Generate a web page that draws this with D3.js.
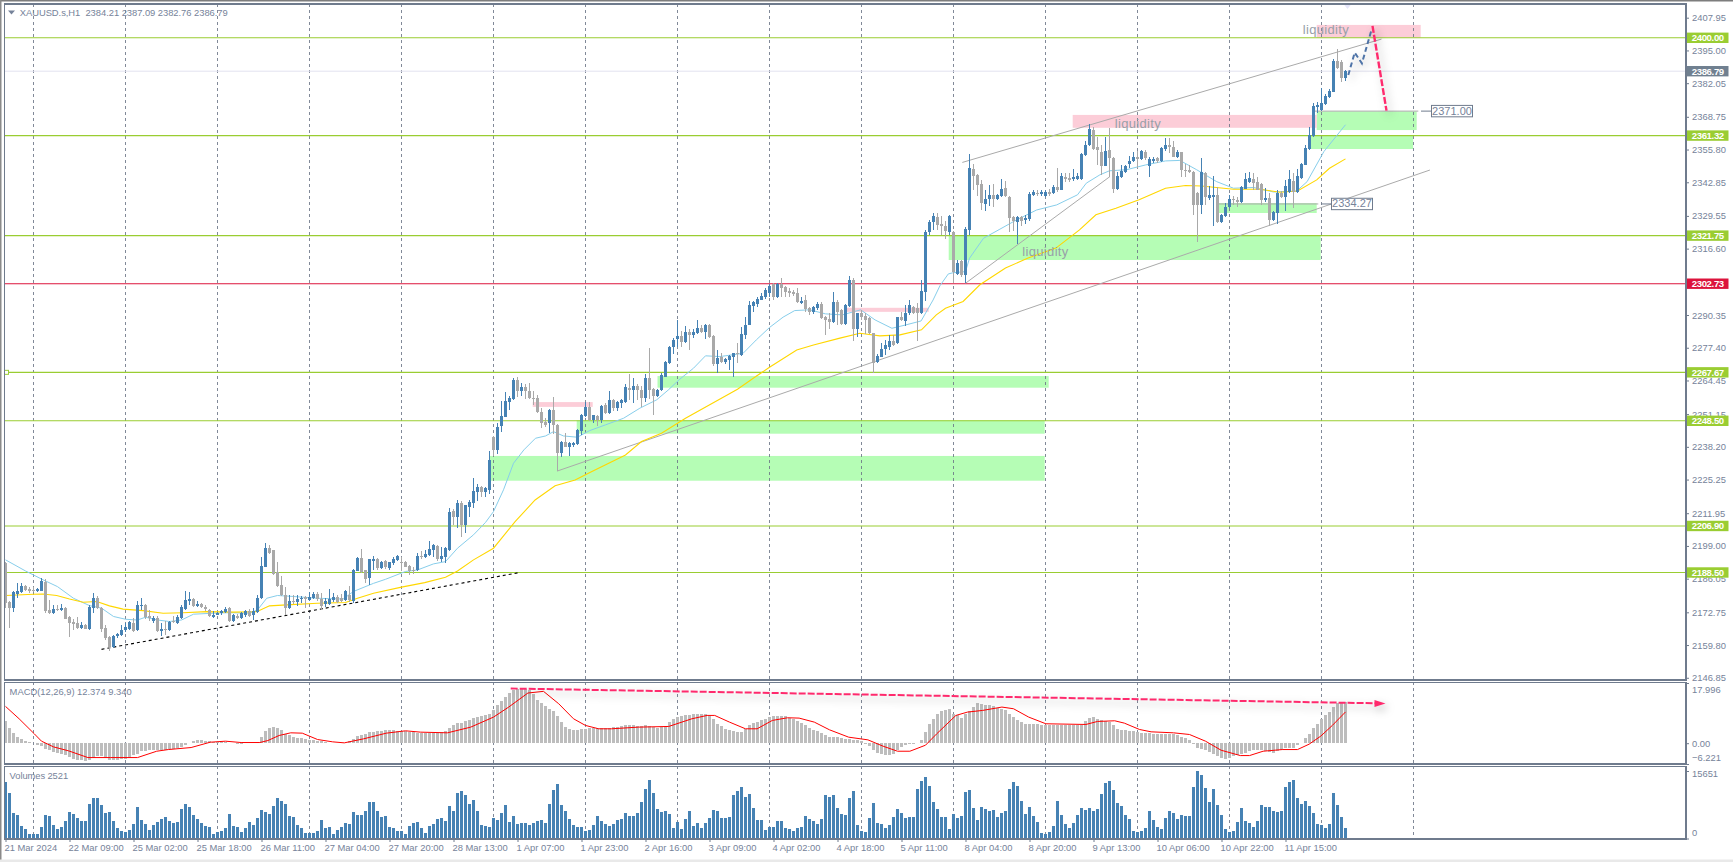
<!DOCTYPE html>
<html><head><meta charset="utf-8">
<script src="https://cdn.jsdelivr.net/npm/d3@7"></script>
<style>
html,body{margin:0;padding:0;background:#fff;overflow:hidden}
svg{display:block}
text{font-family:"Liberation Sans",Arial,sans-serif}
</style></head><body>
<script>
const headerText="XAUUSD.s,H1  2384.21 2387.09 2382.76 2386.79";
const macdTitle="MACD(12,26,9) 12.374 9.340";
const volumeTitle="Volumes 2521";
const opens=[
2192.2,2177.0,2174.5,2180.0,2180.8,2183.2,2182.0,2181.6,2181.1,2181.3,
2184.9,2173.7,2172.4,2174.1,2173.6,2174.4,2170.7,2169.1,2168.6,2166.7,
2167.8,2166.1,2174.5,2178.3,2174.4,2166.7,2162.9,2158.9,2163.2,2163.7,
2165.9,2166.1,2168.7,2165.7,2175.3,2175.7,2171.3,2169.5,2170.4,2165.5,
2166.3,2165.8,2169.4,2168.7,2170.5,2174.2,2177.3,2178.0,2175.3,2176.1,
2175.0,2173.7,2170.8,2171.7,2172.4,2172.8,2174.4,2169.5,2171.3,2170.4,
2171.7,2173.4,2171.5,2173.0,2178.4,2190.8,2198.2,2197.2,2188.5,2183.6,
2179.6,2174.4,2177.4,2176.9,2177.9,2178.7,2177.6,2178.3,2180.0,2177.9,
2176.1,2176.1,2177.6,2178.8,2178.5,2177.7,2179.6,2177.4,2189.1,2194.3,
2189.3,2186.2,2193.2,2193.9,2190.2,2193.1,2190.2,2192.4,2193.5,2192.7,
2192.7,2191.1,2189.5,2189.3,2195.1,2194.8,2195.5,2197.4,2199.0,2193.9,
2194.7,2197.3,2213.0,2210.6,2215.9,2207.1,2214.3,2216.0,2220.5,2222.5,
2220.4,2221.2,2242.1,2237.0,2246.5,2250.2,2256.0,2257.0,2264.7,2260.3,
2261.8,2260.3,2257.4,2257.6,2252.0,2248.1,2247.5,2252.8,2246.9,2235.9,
2240.0,2238.3,2239.0,2239.2,2244.6,2250.4,2254.1,2248.9,2250.4,2248.9,
2254.8,2251.5,2256.8,2253.5,2255.7,2256.1,2261.4,2260.5,2262.3,2260.7,
2257.4,2265.5,2261.1,2258.4,2260.5,2266.0,2271.3,2277.5,2281.0,2282.1,
2279.7,2283.7,2282.6,2283.4,2285.2,2283.5,2286.4,2282.1,2271.0,2273.6,
2271.9,2272.6,2273.9,2275.4,2274.6,2282.5,2286.4,2294.1,2294.7,2296.3,
2297.6,2299.2,2302.7,2297.4,2302.7,2301.6,2299.8,2299.5,2299.2,2295.0,
2296.3,2293.0,2291.6,2293.0,2294.7,2289.5,2288.7,2287.4,2295.5,2292.4,
2286.8,2294.1,2304.2,2284.9,2291.1,2290.0,2289.1,2283.1,2271.9,2273.9,
2276.8,2277.6,2280.1,2279.1,2289.6,2288.0,2291.1,2293.4,2293.2,2291.1,
2299.6,2323.0,2327.0,2329.0,2326.3,2325.5,2323.1,2323.1,2306.6,2311.8,
2306.1,2324.0,2348.0,2345.8,2342.3,2334.3,2336.3,2337.9,2336.3,2337.5,
2340.5,2337.2,2329.3,2327.3,2329.0,2328.0,2328.2,2337.7,2338.6,2338.1,
2337.6,2339.0,2338.5,2340.9,2339.8,2345.1,2344.7,2344.1,2344.1,2344.2,
2353.7,2357.5,2363.6,2356.7,2355.0,2349.3,2355.7,2352.6,2340.1,2344.9,
2347.1,2350.1,2351.4,2352.8,2352.0,2355.0,2349.3,2351.1,2352.4,2351.1,
2355.9,2357.6,2356.7,2353.0,2354.7,2347.8,2347.8,2347.1,2338.5,2333.9,
2346.7,2336.5,2337.2,2337.9,2327.1,2329.7,2333.0,2336.3,2335.8,2335.2,
2340.2,2343.1,2344.2,2343.1,2342.1,2335.8,2336.5,2328.0,2330.6,2338.8,
2337.2,2339.2,2343.4,2339.2,2344.4,2349.7,2356.1,2361.2,2372.5,2371.5,
2373.9,2376.6,2378.7,2390.9,2390.6,2384.21];
const highs=[
2192.5,2177.3,2181.0,2184.5,2184.2,2183.6,2182.7,2182.7,2182.3,2186.2,
2185.8,2177.7,2175.7,2175.7,2176.1,2174.8,2171.1,2170.0,2170.7,2168.8,
2168.2,2175.7,2180.3,2179.0,2174.8,2167.8,2163.2,2163.8,2164.7,2167.8,
2168.7,2169.5,2170.4,2177.3,2178.6,2176.1,2173.7,2171.3,2171.1,2168.4,
2169.5,2169.5,2171.3,2171.7,2175.7,2181.3,2180.9,2178.3,2177.4,2176.6,
2175.7,2174.1,2173.3,2173.0,2173.7,2174.8,2174.8,2172.1,2172.1,2173.0,
2173.7,2174.1,2174.4,2179.4,2194.8,2200.1,2199.4,2197.4,2192.8,2187.2,
2182.7,2179.4,2179.4,2179.4,2179.0,2179.0,2180.6,2180.7,2180.6,2180.3,
2178.3,2182.0,2180.3,2179.4,2180.0,2181.4,2183.2,2190.0,2194.8,2197.8,
2189.5,2194.0,2195.2,2194.1,2193.2,2193.5,2192.8,2194.5,2195.5,2194.8,
2193.0,2191.4,2190.6,2196.4,2196.8,2197.4,2200.9,2199.6,2199.3,2198.5,
2198.5,2213.9,2213.5,2217.2,2216.6,2215.2,2217.0,2225.9,2223.6,2222.9,
2222.5,2236.6,2242.5,2247.5,2256.5,2259.8,2258.4,2265.3,2265.7,2263.4,
2263.1,2263.4,2260.1,2258.8,2253.7,2249.5,2253.0,2257.8,2247.3,2240.6,
2243.6,2240.3,2240.0,2245.2,2251.1,2256.1,2256.1,2250.8,2250.7,2254.7,
2255.5,2260.1,2257.3,2256.5,2257.0,2263.1,2267.1,2265.3,2263.1,2262.1,
2267.1,2277.3,2261.6,2261.0,2267.3,2272.2,2278.0,2281.2,2288.4,2284.2,
2286.0,2284.7,2284.7,2288.4,2286.4,2286.7,2286.7,2282.3,2276.5,2275.2,
2273.5,2274.6,2275.4,2279.2,2285.8,2289.7,2295.7,2295.7,2297.4,2299.2,
2300.9,2302.7,2302.9,2303.2,2304.9,2301.9,2301.0,2300.3,2301.0,2297.4,
2298.3,2293.4,2293.9,2295.3,2295.3,2290.0,2291.1,2299.4,2296.3,2292.6,
2294.6,2305.8,2304.9,2291.3,2292.4,2291.1,2289.5,2283.4,2275.0,2279.4,
2280.5,2282.5,2282.5,2289.7,2291.7,2294.3,2296.3,2293.9,2295.0,2304.0,
2324.0,2328.0,2330.5,2330.5,2329.5,2327.5,2330.0,2323.4,2312.2,2312.2,
2325.3,2354.1,2350.1,2346.2,2343.8,2339.8,2341.8,2342.1,2338.3,2344.1,
2343.5,2337.5,2329.7,2329.6,2329.6,2329.9,2339.2,2339.8,2339.8,2339.6,
2339.8,2340.1,2341.8,2348.4,2346.4,2346.4,2346.4,2348.0,2346.7,2354.6,
2359.0,2365.8,2364.6,2360.9,2357.6,2360.9,2364.2,2353.0,2347.1,2349.7,
2349.7,2353.3,2355.0,2355.4,2355.7,2355.7,2353.0,2353.0,2353.0,2357.0,
2360.3,2360.3,2359.0,2355.7,2355.0,2350.1,2349.7,2347.5,2339.2,2352.4,
2347.1,2341.2,2345.4,2340.9,2330.3,2334.6,2337.9,2337.5,2337.0,2341.2,
2346.4,2347.1,2346.4,2344.9,2342.5,2340.5,2338.5,2331.3,2339.6,2339.4,
2343.8,2347.7,2346.7,2348.0,2350.4,2357.4,2364.9,2374.4,2374.8,2380.1,
2377.7,2379.7,2391.5,2395.5,2391.3,2387.09];
const lows=[
2174.4,2166.7,2173.0,2178.3,2180.3,2181.0,2180.3,2180.8,2180.8,2181.0,
2172.6,2172.1,2172.0,2173.3,2173.2,2170.0,2162.9,2165.8,2166.2,2166.2,
2166.1,2165.8,2172.6,2174.0,2165.0,2161.8,2157.3,2158.7,2162.5,2163.2,
2165.1,2165.8,2165.1,2165.4,2173.7,2170.0,2169.5,2168.4,2165.1,2163.4,
2163.8,2165.4,2168.4,2168.2,2170.0,2173.7,2175.7,2174.8,2174.8,2174.4,
2173.4,2170.7,2170.4,2171.5,2171.7,2172.4,2169.1,2169.1,2170.0,2170.1,
2170.8,2170.8,2169.6,2172.4,2178.2,2190.6,2195.9,2187.6,2182.9,2179.0,
2171.7,2174.1,2176.1,2175.3,2176.6,2174.4,2177.4,2177.9,2177.4,2173.7,
2175.0,2175.7,2177.0,2176.6,2176.8,2177.2,2177.0,2176.3,2188.9,2188.2,
2184.3,2183.6,2189.5,2189.5,2189.8,2189.8,2189.5,2191.5,2193.2,2188.9,
2190.6,2187.5,2187.9,2189.0,2193.9,2194.3,2195.2,2194.8,2193.1,2192.6,
2192.4,2196.9,2207.3,2206.0,2202.5,2204.3,2210.6,2213.9,2216.6,2218.5,
2218.3,2219.6,2234.4,2235.4,2243.9,2249.9,2252.8,2256.8,2258.1,2258.4,
2257.0,2257.0,2254.8,2251.5,2245.6,2246.2,2243.6,2243.3,2228.7,2234.0,
2238.0,2234.6,2238.3,2239.0,2242.9,2250.2,2248.6,2247.5,2246.6,2247.8,
2251.2,2251.2,2252.2,2252.2,2253.5,2255.7,2256.8,2255.5,2256.8,2253.9,
2256.1,2257.3,2250.8,2258.1,2260.2,2265.7,2271.0,2275.0,2277.6,2277.6,
2279.4,2276.5,2281.4,2282.9,2283.4,2280.9,2281.2,2270.2,2267.6,2271.3,
2271.0,2268.6,2265.7,2271.3,2274.2,2280.8,2286.2,2291.7,2293.7,2296.1,
2296.6,2297.4,2296.3,2297.0,2297.6,2297.6,2297.6,2297.9,2295.0,2294.6,
2291.7,2290.4,2290.8,2292.4,2288.7,2282.5,2284.7,2287.1,2286.4,2286.4,
2286.2,2293.7,2280.2,2281.8,2288.4,2282.9,2282.9,2267.6,2271.3,2273.6,
2274.6,2276.5,2277.9,2278.8,2287.8,2286.0,2290.4,2290.8,2280.2,2290.8,
2295.7,2322.0,2324.0,2324.0,2322.0,2320.5,2322.0,2303.2,2306.2,2305.5,
2302.9,2321.8,2339.8,2337.5,2331.7,2331.3,2333.5,2333.2,2335.9,2336.9,
2336.9,2323.0,2323.4,2318.5,2325.6,2326.4,2327.7,2337.5,2337.5,2337.5,
2337.2,2337.5,2338.3,2339.2,2339.6,2343.1,2343.1,2343.5,2343.8,2343.9,
2353.3,2357.2,2355.7,2349.7,2345.8,2349.1,2345.1,2338.5,2339.8,2344.5,
2346.7,2348.4,2351.0,2348.4,2351.7,2351.7,2344.9,2350.4,2350.4,2350.7,
2355.4,2354.3,2352.8,2352.6,2344.9,2344.9,2346.4,2330.0,2319.4,2330.4,
2333.9,2335.9,2325.6,2326.7,2326.8,2329.3,2332.6,2333.9,2333.2,2334.8,
2340.1,2342.5,2339.8,2339.6,2333.9,2335.2,2325.7,2327.7,2326.4,2336.5,
2331.3,2338.8,2332.6,2338.8,2344.2,2349.5,2355.7,2360.9,2370.2,2371.2,
2373.5,2376.1,2378.5,2387.7,2382.6,2382.76];
const closes=[
2176.3,2174.6,2180.6,2181.2,2183.2,2181.6,2181.0,2181.3,2181.9,2185.3,
2173.4,2172.4,2174.1,2173.8,2174.4,2170.2,2168.6,2168.0,2166.5,2167.8,
2166.2,2174.8,2178.4,2174.4,2166.2,2162.6,2158.9,2163.4,2164.2,2165.8,
2167.0,2168.8,2165.4,2175.7,2175.7,2170.7,2170.3,2170.5,2165.4,2166.2,
2165.8,2169.1,2169.0,2170.8,2174.9,2177.7,2178.0,2175.2,2176.1,2174.8,
2174.0,2171.1,2171.7,2172.6,2173.3,2174.0,2169.5,2171.5,2170.4,2172.4,
2173.3,2171.3,2173.3,2178.4,2191.1,2198.2,2196.1,2188.0,2183.3,2179.4,
2174.4,2177.3,2176.9,2178.0,2178.6,2177.9,2178.7,2180.0,2177.9,2175.3,
2177.4,2177.9,2178.8,2177.0,2177.2,2181.0,2177.7,2189.5,2194.4,2188.5,
2186.0,2193.7,2193.9,2190.2,2192.8,2190.5,2192.7,2194.0,2195.1,2192.4,
2190.8,2189.1,2189.3,2195.1,2194.8,2195.9,2197.7,2199.2,2193.9,2195.1,
2198.2,2212.5,2210.6,2216.0,2207.1,2215.0,2216.3,2220.8,2222.4,2220.3,
2222.0,2233.0,2237.0,2246.1,2250.4,2256.4,2257.7,2264.7,2260.3,2261.8,
2260.3,2257.6,2257.3,2251.8,2247.8,2246.9,2252.8,2246.9,2235.9,2240.3,
2238.3,2239.6,2239.6,2244.9,2250.8,2254.1,2248.9,2250.7,2248.9,2254.4,
2251.5,2256.8,2253.5,2256.1,2256.8,2261.7,2260.7,2262.3,2260.5,2257.4,
2265.5,2260.7,2258.4,2260.7,2266.8,2271.9,2277.5,2280.5,2282.1,2279.7,
2283.7,2282.5,2283.7,2285.2,2283.7,2286.4,2281.6,2271.0,2273.5,2271.8,
2273.1,2274.3,2275.4,2274.8,2282.9,2286.4,2294.3,2295.3,2296.7,2298.0,
2300.3,2301.9,2297.6,2302.7,2301.0,2299.6,2299.2,2298.7,2295.3,2296.0,
2292.6,2291.7,2293.4,2294.7,2289.1,2288.4,2287.6,2295.5,2291.7,2286.8,
2294.3,2304.2,2284.9,2291.1,2289.7,2288.4,2283.1,2271.5,2274.2,2276.9,
2278.5,2280.1,2278.4,2289.6,2288.2,2291.3,2294.3,2291.3,2291.1,2299.9,
2323.0,2327.0,2329.5,2326.0,2325.4,2323.5,2329.6,2307.5,2311.1,2306.2,
2324.3,2348.4,2345.4,2341.8,2334.6,2336.3,2337.9,2336.3,2337.9,2340.2,
2337.5,2328.8,2327.7,2329.3,2327.6,2328.6,2338.3,2338.9,2338.1,2338.9,
2339.0,2338.1,2340.9,2339.8,2345.4,2344.1,2343.8,2345.1,2345.5,2354.1,
2357.6,2363.8,2355.9,2355.7,2349.3,2355.3,2352.5,2340.1,2345.4,2347.4,
2349.3,2351.4,2353.0,2352.0,2355.3,2352.4,2352.0,2352.0,2351.1,2356.3,
2357.4,2356.7,2353.0,2354.7,2347.8,2347.4,2347.1,2333.9,2333.9,2346.8,
2337.2,2337.9,2337.9,2327.1,2330.0,2333.0,2336.1,2335.8,2335.2,2340.9,
2344.2,2344.5,2342.5,2339.8,2335.9,2336.8,2328.0,2331.0,2338.8,2336.9,
2341.4,2344.2,2338.9,2345.2,2350.1,2356.6,2361.6,2373.1,2373.5,2374.1,
2377.0,2379.1,2391.0,2388.0,2384.1,2386.79];
const macdHist=[
6.5,4.5,3.0,1.8,1.3,0.8,0.5,0.1,-0.4,-0.9,
-1.6,-2.1,-2.7,-2.9,-3.3,-3.6,-4.1,-4.6,-4.9,-5.1,
-5.3,-4.9,-4.3,-3.9,-3.9,-4.3,-5.1,-5.1,-5.1,-4.8,
-4.6,-4.3,-3.6,-3.1,-2.4,-2.2,-1.9,-2.1,-2.1,-1.9,
-1.9,-1.8,-1.7,-1.4,-1.1,-0.6,0.2,0.8,0.9,1.0,
0.8,0.6,0.5,0.4,0.3,0.3,0.1,0,-0.2,-0.2,
0,0,0.1,0.5,2.0,3.5,4.6,4.8,4.6,3.8,
2.8,2.3,2.0,1.5,1.5,1.3,1.0,1.0,0.8,0.6,
0.3,0.2,0.1,0.1,0.2,0,0.6,1.3,2.1,2.3,
2.8,3.2,3.4,3.5,3.7,3.8,3.8,3.8,3.7,3.6,
3.5,3.2,3.2,3.1,3.0,3.0,3.1,3.1,3.1,3.3,
3.6,4.6,5.4,6.0,6.1,6.5,7.0,7.5,7.8,8.0,
8.3,8.8,10.0,11.3,12.5,13.8,15.1,16.0,16.3,16.3,
16.1,15.8,14.6,13.0,12.0,11.0,10.3,9.6,8.0,6.3,
4.9,4.3,3.8,4.0,4.2,4.3,4.6,4.6,4.6,4.6,
4.6,4.6,4.7,4.8,5.0,5.3,5.3,5.3,5.0,5.0,
5.3,5.0,4.8,4.6,4.8,5.0,6.3,7.3,7.8,8.1,
8.3,8.5,8.6,8.6,8.6,8.6,8.1,7.1,5.8,5.0,
4.3,3.8,3.6,3.4,3.4,4.3,5.3,6.0,6.3,6.8,
7.3,7.8,8.0,8.0,8.0,8.0,7.5,7.1,6.6,6.0,
5.3,4.6,4.0,3.6,3.1,2.4,2.0,2.0,1.8,1.5,
1.3,1.3,1.0,1.0,0.6,-0.2,-0.9,-1.9,-2.9,-3.3,
-3.5,-3.6,-3.3,-2.1,-1.1,-0.6,-0.3,-0.2,0.2,1.1,
3.3,5.8,7.3,8.8,9.5,9.8,10.3,8.8,8.3,7.6,
8.8,9.6,10.8,12.0,11.6,11.5,11.3,11.0,10.6,10.3,
10.0,8.8,7.8,6.8,6.3,5.6,5.6,5.6,5.6,5.5,
5.5,5.4,5.4,5.4,5.4,5.4,5.4,5.4,5.4,5.5,
6.6,7.6,7.7,7.3,6.8,6.6,6.3,5.3,4.3,3.8,
3.8,3.6,3.6,3.3,3.0,3.0,3.0,2.8,2.8,2.8,
2.6,2.6,2.6,2.4,2.0,1.6,1.0,-0.3,-1.3,-1.6,
-2.1,-2.6,-3.1,-3.9,-4.4,-4.6,-4.4,-3.9,-3.6,-3.3,
-2.8,-2.4,-1.9,-1.9,-1.9,-2.4,-2.6,-2.8,-2.4,-1.9,
-1.3,-1.3,-1.3,-0.6,0.1,1.5,2.6,4.6,5.8,7.3,
8.3,9.3,10.8,12.0,12.2,12.374];
const volumes=[
13098,10540,5890,5425,2868,2170,1008,930,1008,2558,
5425,5270,3100,2248,2558,4030,6123,5735,4650,4030,
4030,7983,9378,9378,7750,5813,6045,4108,2403,1783,
1473,1860,3333,7285,4263,3333,1938,3100,3798,4495,
4960,4108,3643,3798,6820,7983,7285,5425,4495,3565,
2868,2635,1008,1395,1705,2403,5658,2868,2635,1473,
2403,3798,3100,4728,6588,6123,5658,7518,9378,8680,
7983,5193,4960,3100,2403,1240,1240,1240,1705,4263,
2403,2635,1008,1938,2635,3565,3333,6123,5425,5425,
6355,8448,8448,6355,4960,5193,2635,2403,1705,1705,
1008,2868,3565,3798,2403,1318,2868,3333,4495,4728,
4030,7518,6355,10540,11005,10075,7983,8913,6355,3100,
2868,2635,4728,4263,5890,7750,3798,5193,3410,3488,
3488,3178,3643,4030,4263,3565,7983,11315,12633,7750,
6355,4495,3100,2635,2635,1705,1860,3100,5193,
4030,3333,2868,3333,4263,4495,5890,5193,5193,5890,
8448,11470,13563,10540,6820,6123,6355,5658,2403,3798,
2170,4495,6355,2868,3565,2403,3565,4728,6588,6355,
4728,4728,4960,10075,11083,11935,9610,10308,7053,4263,
4263,1938,2635,2635,4030,4030,2403,2170,1705,2403,
2635,5193,4495,4030,3333,4495,10075,9610,10075,7053,
5658,5425,9378,11005,3100,1705,1473,4728,8215,3565,
3333,2403,3100,4960,6820,5890,4728,4960,4960,11470,
13330,14260,12168,8448,6820,4960,4960,2170,5658,4728,
5193,10773,11238,7053,4263,7285,6820,6355,6588,4960,
5890,6355,11470,13098,12168,8680,5658,7285,5193,3798,
1240,1008,1473,2868,8680,5425,3333,2403,3565,5425,
7053,6588,7053,6355,6820,10308,12865,13330,11238,8215,
7518,5425,4495,1705,1473,1705,2403,
6355,4263,2635,2170,4728,6355,5890,4495,5425,5270,
5193,11935,15651,14725,11703,8448,11470,7750,5425,2170,
1473,1705,3798,7053,4030,3565,2635,4030,7750,7285,
7285,6355,6123,6355,11935,13098,13563,9378,7983,8680,
7518,5890,3333,3100,2403,3333,10540,7750,4960,2521];
const signalBars=[0,3.4,7.2,9,12,15.8,20.6,26.3,33,37.8,40.7,46.4,51.2,55,58.9,63.6,65.6,68.4,71.3,74.2,78,81.8,84.7,89.5,95.2,100,103.8,110.5,116.3,122,125.8,130.6,134.5,138.3,142,145,148.3,151.5,158.2,165.8,171.6,175.4,177.3,181,185,187.9,191.7,195.5,198.4,202.2,206,210.8,215.6,219.4,223,226.1,230,232.8,237.6,240.5,244.3,249.1,252,255.8,260.1,270.1,273,277.3,279.7,283.5,286.4,292,296,300,303.9,308.7,311,314.4,319.2,323,325.9,328.8,331.7,335];
const signalValues=[11,7.3,2.8,0.6,-1.1,-2.3,-4.3,-4.3,-4.3,-2.4,-1.9,-1.3,0.3,0.6,0.2,0.2,0.8,2.3,3.1,3,1.1,0.4,0.1,1.3,3,3.7,3.3,3.1,4.8,7.8,10.8,15,15.5,11.8,7.3,5.3,4.3,4.3,4.8,5,7.3,8.3,8.3,6.3,4.3,4.3,6.8,7.6,7.5,6.3,4,1.8,1,-0.9,-2.4,-2.4,-0.6,2.8,8.3,9.3,9.8,10.8,10.3,7.8,5.8,5.6,6.5,6.7,6,4.1,3.4,3.1,2.6,0.6,-2.1,-3.7,-3.7,-2.4,-1.9,-1.9,-0.3,2.1,5.3,9.34];
const fastMaBars=[0,5,9.4,13,17,21,24,27,30,33,35,38,41,44,47,52,56,61,63,65.3,68,72,78,84.4,87,92,95,100,103,107,110,113,117,120,122,124.5,127,129.6,132.5,135,137,139.5,143,146,150,154.5,158.6,162.8,165.7,168.6,172,175,178.6,184.4,187.7,191,194.4,197.3,201,205,209.2,213.8,217.4,221.6,225,228.9,231.9,233.6,235.7,237,240,241,244.5,248.6,252.8,257.8,262.8,268,270.2,273.6,276,280.2,285,290,293.6,297.8,302.8,307,312,317,322.8,325.4,329.6,335];
const fastMaValues=[2193.5,2189.1,2185.6,2182.9,2178.3,2175.4,2174.4,2171.1,2170,2169.7,2170.8,2169.7,2169.1,2169.7,2172,2172.4,2172.6,2172.4,2173.7,2178.3,2179.4,2179,2178.3,2178,2181,2184.2,2185.8,2188.9,2189.5,2191.9,2192.8,2198.1,2203.4,2208.3,2212.6,2221.2,2231.7,2237,2241.6,2242.5,2244.2,2242.5,2242,2244.6,2246.9,2249.5,2253.5,2256.8,2260.7,2265,2269.3,2274.2,2273.9,2275.2,2280.5,2285.4,2289.5,2292.1,2292.4,2290.8,2290.4,2292.4,2288.4,2285.1,2286.4,2288,2296.3,2301.9,2306.6,2307.1,2307.5,2312.8,2320.7,2324.3,2328,2331.9,2333.9,2337.9,2342.5,2345.8,2347.4,2347.8,2349.7,2351.3,2351.5,2347.8,2343.1,2340.5,2340.8,2339,2339.4,2343.1,2355,2365.6];
const slowMaBars=[0,7,9.4,12.8,16,19.4,22.8,26,29.4,34.4,39.4,44.4,50.3,57,62.8,66,70.3,78,85,88,92,99,104.8,110,113,117,122,124,127.4,132.4,137.4,142.4,146.6,155,159,164,170,183,187.3,191,197.8,202,208.6,213.6,218.6,223.6,229,232.7,235,239.4,243.6,250,255.5,262.6,268.5,272.6,277.6,283.4,290,295,299,307,313.6,318.6,323,327.8,331,335];
const slowMaValues=[2179.4,2179.9,2180,2179.4,2178,2176.7,2177,2175.3,2174,2173.4,2172.4,2172.6,2173,2172.8,2173,2175.3,2175.7,2176.3,2176.6,2178.3,2180.3,2182.7,2184.5,2186.6,2189.1,2193.5,2198.1,2202,2208.6,2217.2,2222.8,2225.1,2228.4,2235,2240.3,2243.6,2249.5,2261,2265.7,2269.7,2276.5,2278.5,2281.2,2283.1,2282.1,2282.5,2284.5,2290.4,2293,2295.7,2302.3,2308.9,2312.8,2316.8,2324,2330,2332.6,2335.9,2340.5,2341.6,2341.4,2340.1,2340.1,2338.9,2339.4,2343.8,2348.4,2352.1];
const priceTicks=[2407.95,2395.00,2382.05,2368.75,2355.80,2342.85,2329.55,2316.60,2290.35,2277.40,2264.45,2251.15,2238.20,2225.25,2211.95,2199.00,2186.05,2172.75,2159.80,2146.85];
const greenLevels=[2400.00,2361.32,2321.75,2267.67,2248.50,2206.90,2188.50];
const redLevels=[2302.73];
const currentPrice=[2386.79];
const timeLabels=["21 Mar 2024","22 Mar 09:00","25 Mar 02:00","25 Mar 18:00","26 Mar 11:00","27 Mar 04:00","27 Mar 20:00","28 Mar 13:00","1 Apr 07:00","1 Apr 23:00","2 Apr 16:00","3 Apr 09:00","4 Apr 02:00","4 Apr 18:00","5 Apr 11:00","8 Apr 04:00","8 Apr 20:00","9 Apr 13:00","10 Apr 06:00","10 Apr 22:00","11 Apr 15:00"];
const timeLabelBars=timeLabels.map((_,k)=>k*16);
const gridBars=d3.range(7,353,23);
// zones: [bar from, bar to, price top, price bottom]
const greenZones=[[121.1,259.8,2234.6,2224.8],[142.8,259.8,2248.7,2243.4],[163,260.8,2266.2,2261.6],[235.8,328.8,2321.9,2312.1],[303.2,327.8,2334.6,2330.7],[326.3,351.9,2361.4,2356],[327.8,352.8,2370.9,2363.5]];
const pinkZones=[[327.8,353.8,2405.1,2400],[266.8,327.8,2369.5,2364.4],[210.1,230.8,2293.2,2291.6],[131.8,146.8,2255.9,2254]];
// trend lines: [bar a, price a, bar b, price b]
const trendLines=[[137.9,2228.6,356.1,2347.7],[239.2,2350.7,344,2399.5],[240,2302.9,276.1,2345.1],[326.8,2371,353.2,2371],[302.8,2334.27,328.2,2334.27]];
const supportLine=[24,2158.1,128.2,2188.4];
const liquidityNotes=[[324.3,2402.8],[277.3,2365.5],[254.2,2315]];
const priceLabels=[[2371.00,356.5],[2334.27,331.5]];
const bluePathBars=[335.7,337.3,339.1,341.5];
const bluePathPrices=[2385.3,2394.1,2389.9,2403.1];
const dropBars=[341.75,345.25];
const dropPrices=[2404.7,2371.2];
const macdArrowBars=[126.3,345];
const macdArrowValues=[16.35,11.87];

const W=1733,H=862,slate="#6f7b8d",txt="#76839a";
const svg=d3.select("body").append("svg").attr("width",W).attr("height",H);
const x=d3.scaleLinear().domain([0,420]).range([5.5,1685.5]);
const y=d3.scaleLinear().domain([2413.37,2145.97]).range([4,680]);
const yM=d3.scaleLinear().domain([17.996,-6.221]).range([683,764]);
const yV=d3.scaleLinear().domain([0,15651]).range([838.5,771]);

svg.append("rect").attr("width",W).attr("height",H).attr("fill","#fff");
svg.append("rect").attr("width",W).attr("height",1.5).attr("fill","#7d7d7d");
svg.append("rect").attr("width",1.5).attr("height",H).attr("fill","#8a8a8a");
svg.append("rect").attr("y",859.5).attr("width",W).attr("height",2.5).attr("fill","#e9e9e9");

const zones=svg.append("g");
zones.selectAll(".g").data(greenZones).join("rect").attr("fill","#b5fdb5")
 .attr("x",d=>x(d[0])).attr("width",d=>x(d[1])-x(d[0])).attr("y",d=>y(d[2])).attr("height",d=>y(d[3])-y(d[2]));
zones.selectAll(".p").data(pinkZones).join("rect").attr("fill","#fccdd8")
 .attr("x",d=>x(d[0])).attr("width",d=>x(d[1])-x(d[0])).attr("y",d=>y(d[2])).attr("height",d=>y(d[3])-y(d[2]));

// grid
svg.append("g").selectAll("line").data(gridBars).join("line")
 .attr("x1",d=>Math.floor(x(d))+.5).attr("x2",d=>Math.floor(x(d))+.5).attr("y1",4).attr("y2",839)
 .attr("stroke","#6b7486").attr("stroke-opacity",.85).attr("stroke-dasharray","3 3");

// current price and levels
svg.append("g").selectAll("line").data(currentPrice).join("line").attr("x1",5).attr("x2",1686)
 .attr("y1",d=>y(d)).attr("y2",d=>y(d)).attr("stroke","#e2e2f0");
const lv=svg.append("g");
lv.selectAll(".gl").data(greenLevels).join("line").attr("x1",5).attr("x2",1686)
 .attr("y1",d=>y(d)).attr("y2",d=>y(d)).attr("stroke","#9acd32").attr("stroke-width",1.1);
lv.selectAll(".rl").data(redLevels).join("line").attr("x1",5).attr("x2",1686)
 .attr("y1",d=>y(d)).attr("y2",d=>y(d)).attr("stroke","#dc143c").attr("stroke-width",1.1);
svg.append("rect").attr("x",4.5).attr("y",y(2267.67)-2).attr("width",4).attr("height",4).attr("fill","#fff").attr("stroke","#9acd32");

// trend lines
svg.append("g").selectAll("line").data(trendLines).join("line")
 .attr("x1",d=>x(d[0])).attr("y1",d=>y(d[1])).attr("x2",d=>x(d[2])).attr("y2",d=>y(d[3]))
 .attr("stroke","#aaaaaa").attr("stroke-width",1);
svg.append("line").attr("x1",x(supportLine[0])).attr("y1",y(supportLine[1])).attr("x2",x(supportLine[2])).attr("y2",y(supportLine[3]))
 .attr("stroke","#000").attr("stroke-width",1.1).attr("stroke-dasharray","3 3");

// moving averages
const lineMain=d3.line().x(d=>x(d[0])).y(d=>y(d[1]));
svg.append("path").attr("d",lineMain(fastMaBars.map((b,k)=>[b,fastMaValues[k]]))).attr("fill","none").attr("stroke","#87ceeb").attr("stroke-width",1);
svg.append("path").attr("d",lineMain(slowMaBars.map((b,k)=>[b,slowMaValues[k]]))).attr("fill","none").attr("stroke","#ffd700").attr("stroke-width",1.1);

// candles
const idx=d3.range(opens.length);
const blue="#4682b4",grey="#a9a9a9";
const cg=svg.append("g").attr("shape-rendering","crispEdges");
const col=i=>closes[i]>=opens[i]?blue:grey;
cg.selectAll(".w").data(idx).join("line").attr("x1",i=>x(i)).attr("x2",i=>x(i))
 .attr("y1",i=>y(highs[i])).attr("y2",i=>y(lows[i])).attr("stroke",col);
cg.selectAll(".b").data(idx).join("rect").attr("x",i=>x(i)-1.5).attr("width",3)
 .attr("y",i=>y(Math.max(opens[i],closes[i])))
 .attr("height",i=>Math.max(1,Math.abs(y(opens[i])-y(closes[i])))).attr("fill",col);

// forecast arrows
const shadow="drop-shadow(3px 4px 4px rgba(0,0,0,.28))";
svg.append("path").attr("d",lineMain(bluePathBars.map((b,k)=>[b,bluePathPrices[k]]))).attr("fill","none")
 .attr("stroke","#4f74a8").attr("stroke-width",2).attr("stroke-dasharray","5 3").style("filter",shadow);
svg.append("path").attr("d",lineMain(dropBars.map((b,k)=>[b,dropPrices[k]]))).attr("fill","none")
 .attr("stroke","#ff2a6d").attr("stroke-width",2.4).attr("stroke-dasharray","7 2").style("filter",shadow);
svg.append("path").attr("d","M"+x(335.5-1)+",4L"+x(335.5+1)+",4L"+x(335.5)+",9Z").attr("fill","#e6e6fa");

// notes
svg.append("g").selectAll("text").data(liquidityNotes).join("text").text("liquidity")
 .attr("x",d=>x(d[0])).attr("y",d=>y(d[1])).attr("text-anchor","start").attr("dominant-baseline","middle")
 .attr("font-size",13).attr("fill","#98a0a8").attr("textLength",46);

// price boxed labels
const pl=svg.append("g").selectAll("g").data(priceLabels).join("g");
pl.append("line").attr("x1",d=>x(d[1])-10.5).attr("x2",d=>x(d[1])).attr("y1",d=>y(d[0])).attr("y2",d=>y(d[0])).attr("stroke",slate);
pl.append("rect").attr("x",d=>x(d[1])).attr("y",d=>y(d[0])-5.7).attr("width",41).attr("height",11.4).attr("fill","#fff").attr("stroke",slate);
pl.append("text").text(d=>d[0].toFixed(2)).attr("x",d=>x(d[1])+20.5).attr("y",d=>y(d[0])+.5).attr("text-anchor","middle")
 .attr("dominant-baseline","middle").attr("font-size",11).attr("fill",txt);

// MACD
const mg=svg.append("g").attr("shape-rendering","crispEdges");
mg.selectAll("rect").data(idx).join("rect").attr("x",i=>x(i)-1.5).attr("width",3)
 .attr("y",i=>Math.min(yM(macdHist[i]),yM(0))).attr("height",i=>Math.abs(yM(macdHist[i])-yM(0))).attr("fill","#bdbdbd");
svg.append("path").attr("d",d3.line().x(d=>x(d[0])).y(d=>yM(d[1]))(signalBars.map((b,k)=>[b,signalValues[k]])))
 .attr("fill","none").attr("stroke","#ff0000").attr("stroke-width",1);
const ax1=x(macdArrowBars[1]),ay1=yM(macdArrowValues[1]);
const ag=svg.append("g").style("filter",shadow);
ag.append("line").attr("x1",x(macdArrowBars[0])).attr("y1",yM(macdArrowValues[0])).attr("x2",ax1-8).attr("y2",ay1-.2)
 .attr("stroke","#ff2a6d").attr("stroke-width",2).attr("stroke-dasharray","7 2");
ag.append("path").attr("d",`M${ax1},${ay1}L${ax1-11},${ay1-3.6}L${ax1-11},${ay1+3.6}Z`).attr("fill","#ff2a6d");

// Volumes
svg.append("g").attr("shape-rendering","crispEdges").selectAll("rect").data(idx).join("rect")
 .attr("x",i=>x(i)-1.5).attr("width",3).attr("y",i=>yV(volumes[i])).attr("height",i=>yV(0)-yV(volumes[i])).attr("fill",blue);

// frames
[[4,680],[682.5,764],[766.5,839]].forEach(p=>svg.append("rect").attr("x",4.5).attr("y",p[0]).attr("width",1681.5).attr("height",p[1]-p[0])
 .attr("fill","none").attr("stroke",slate).attr("stroke-width",1.1).attr("shape-rendering","crispEdges"));

// axes
function style(g){g.select(".domain").remove();g.selectAll("line").attr("stroke",slate);g.selectAll("text").attr("fill",txt).attr("font-size",9.4).style("font-family",'"Liberation Sans",Arial,sans-serif');}
svg.append("g").attr("transform","translate(1686,0)").call(d3.axisRight(y).tickValues(priceTicks).tickFormat(d3.format(".2f")).tickSize(3).tickPadding(3)).call(style);
const am=svg.append("g").attr("transform","translate(1686,0)").call(d3.axisRight(yM).tickValues([17.996,0,-6.221]).tickFormat(d=>d===0?"0.00":d3.format(".3f")(d)).tickSize(3).tickPadding(3)).call(style);
am.selectAll("text").attr("dy",d=>d>1?"1.05em":d<0?"-0.35em":"0.32em");
const av=svg.append("g").attr("transform","translate(1686,0)").call(d3.axisRight(yV).tickValues([15651,0]).tickFormat(d3.format("d")).tickSize(3).tickPadding(3)).call(style);
av.selectAll("text").attr("dy",d=>d>0?"0.55em":"-0.35em");
const at=svg.append("g").attr("transform","translate(0,839)").call(d3.axisBottom(x).tickValues(timeLabelBars).tickFormat((d,k)=>timeLabels[k]).tickSize(3).tickPadding(3)).call(style);
at.selectAll("text").attr("text-anchor","start").attr("x",-1.5).attr("y",5.5);

// right tags
const tags=[...greenLevels.map(v=>[v,"#9acd32"]),...redLevels.map(v=>[v,"#dc143c"]),...currentPrice.map(v=>[v,"#708090"])];
const tg=svg.append("g").selectAll("g").data(tags).join("g");
tg.append("rect").attr("x",1687).attr("width",41.5).attr("y",d=>y(d[0])-5.2).attr("height",10.4).attr("fill",d=>d[1]);
tg.append("text").text(d=>d[0].toFixed(2)).attr("x",1691.7).attr("y",d=>y(d[0])+3.4).attr("font-size",9.6).attr("font-weight","bold").attr("fill","#fff").attr("textLength",32.5);

// titles
svg.append("path").attr("d","M8,10.5L15,10.5L11.5,14.5Z").attr("fill",txt);
svg.append("text").text(headerText).attr("x",19.7).attr("y",15.5).attr("font-size",9.4).attr("fill",txt).attr("textLength",208).style("white-space","pre");
svg.append("text").text(macdTitle).attr("x",9.6).attr("y",695).attr("font-size",9.4).attr("fill",txt).attr("textLength",122);
svg.append("text").text(volumeTitle).attr("x",9.6).attr("y",779).attr("font-size",9.4).attr("fill",txt).attr("textLength",58.5);
</script>
</body></html>
